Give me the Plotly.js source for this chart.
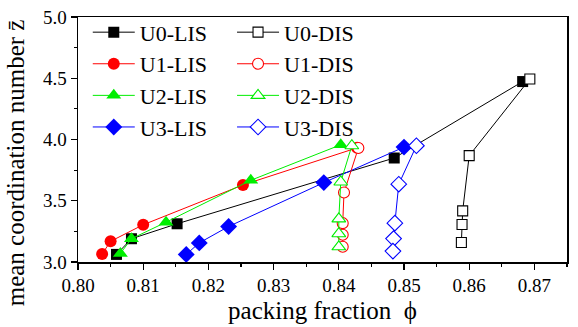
<!DOCTYPE html>
<html>
<head>
<meta charset="utf-8">
<script src="https://cdn.plot.ly/plotly-3.0.1.min.js"></script>
<style>html,body{margin:0;padding:0;background:#fff;}#chart{width:578px;height:327px;}</style>
</head>
<body>
<div id="chart"></div>
<script>
// Data
var u0LisX = [0.8059, 0.8082, 0.8152, 0.8485, 0.8682];
var u0LisY = [3.062, 3.190, 3.312, 3.849, 4.473];
var u1LisX = [0.8037, 0.8050, 0.8100, 0.8253, 0.8428];
var u1LisY = [3.065, 3.169, 3.304, 3.629, 3.932];
var u2LisX = [0.8065, 0.8082, 0.8135, 0.8265, 0.8403];
var u2LisY = [3.070, 3.190, 3.325, 3.667, 3.957];
var u3LisX = [0.8166, 0.8186, 0.8231, 0.8377, 0.8500];
var u3LisY = [3.062, 3.156, 3.290, 3.648, 3.938];

var u0DisX = [0.8693, 0.8600, 0.8590, 0.8589, 0.8588];
var u0DisY = [4.494, 3.868, 3.417, 3.306, 3.159];
var u1DisX = [0.8430, 0.8408, 0.8406, 0.8406, 0.8406];
var u1DisY = [3.930, 3.567, 3.317, 3.223, 3.124];
var u2DisX = [0.8420, 0.8403, 0.8400, 0.8400, 0.8400];
var u2DisY = [3.949, 3.653, 3.352, 3.231, 3.124];
var u3DisX = [0.8519, 0.8492, 0.8486, 0.8484, 0.8483];
var u3DisY = [3.949, 3.635, 3.317, 3.191, 3.089];

var names = ['U0', 'U1', 'U2', 'U3'];
var xTitle = 'packing fraction  \u03d5';
var yTitle = 'mean coordination number z\u0304';

var colors = ['#000000', '#ff0000', '#00ee00', '#0000ff'];
var lisSymbols = ['square', 'circle', 'triangle-up', 'diamond'];
var lisSizes = [11, 12, 13, 13];
var lisX = [u0LisX, u1LisX, u2LisX, u3LisX];
var lisY = [u0LisY, u1LisY, u2LisY, u3LisY];
var disX = [u0DisX, u1DisX, u2DisX, u3DisX];
var disY = [u0DisY, u1DisY, u2DisY, u3DisY];

var traces = [];
for (var i = 0; i < 4; i++) {
  traces.push({
    x: lisX[i], y: lisY[i], name: names[i] + '-LIS', type: 'scatter', mode: 'lines+markers',
    line: {color: colors[i], width: 1},
    marker: {symbol: lisSymbols[i], size: lisSizes[i], color: colors[i], line: {width: 0}},
    legend: 'legend'
  });
}
for (var j = 0; j < 4; j++) {
  traces.push({
    x: disX[j], y: disY[j], name: names[j] + '-DIS', type: 'scatter', mode: 'lines+markers',
    line: {color: colors[j], width: 1},
    marker: {symbol: lisSymbols[j], size: lisSizes[j] - 1, color: '#ffffff', line: {color: colors[j], width: 1.1}},
    legend: 'legend2'
  });
}

var fontFam = 'Liberation Serif, Times New Roman, serif';
var legendCommon = {
  font: {family: fontFam, size: 22, color: '#000'},
  bgcolor: 'rgba(0,0,0,0)', borderwidth: 0,
  xref: 'paper', yref: 'paper', xanchor: 'left', yanchor: 'top',
  tracegroupgap: 0, itemwidth: 42
};
var layout = {
  width: 578, height: 327,
  margin: {l: 78, r: 11, t: 14, b: 65},
  paper_bgcolor: '#fff', plot_bgcolor: '#fff',
  font: {family: fontFam, color: '#000'},
  showlegend: true,
  legend: Object.assign({}, legendCommon, {x: 0.02, y: 1.023}),
  legend2: Object.assign({}, legendCommon, {x: 0.315, y: 1.023}),
  xaxis: {
    range: [0.80, 0.875], dtick: 0.01, tick0: 0.80, tickformat: '.2f',
    ticks: 'outside', ticklen: 6, tickwidth: 1.3, tickcolor: '#000',
    minor: {dtick: 0.005, ticks: 'outside', ticklen: 3, tickwidth: 1.2, tickcolor: '#000'},
    showline: true, linecolor: '#000', linewidth: 1.5, mirror: true,
    showgrid: false, zeroline: false,
    tickfont: {family: fontFam, size: 19, color: '#000'},
    title: {text: xTitle, font: {family: fontFam, size: 25, color: '#000'}, standoff: 6}
  },
  yaxis: {
    range: [3, 5], dtick: 0.5, tick0: 3, tickformat: '.1f',
    ticks: 'outside', ticklen: 6, tickwidth: 1.3, tickcolor: '#000',
    minor: {dtick: 0.25, ticks: 'outside', ticklen: 3, tickwidth: 1.2, tickcolor: '#000'},
    showline: true, linecolor: '#000', linewidth: 1.5, mirror: true,
    showgrid: false, zeroline: false,
    tickfont: {family: fontFam, size: 19, color: '#000'}
  },
  annotations: [{
    text: yTitle, textangle: -90, showarrow: false,
    xref: 'paper', yref: 'paper', x: 0, y: 0.403, xanchor: 'center', yanchor: 'middle',
    xshift: -63,
    font: {family: fontFam, size: 25, color: '#000'}
  }]
};
Plotly.newPlot('chart', traces, layout, {displayModeBar: false, staticPlot: true});
</script>
</body>
</html>
